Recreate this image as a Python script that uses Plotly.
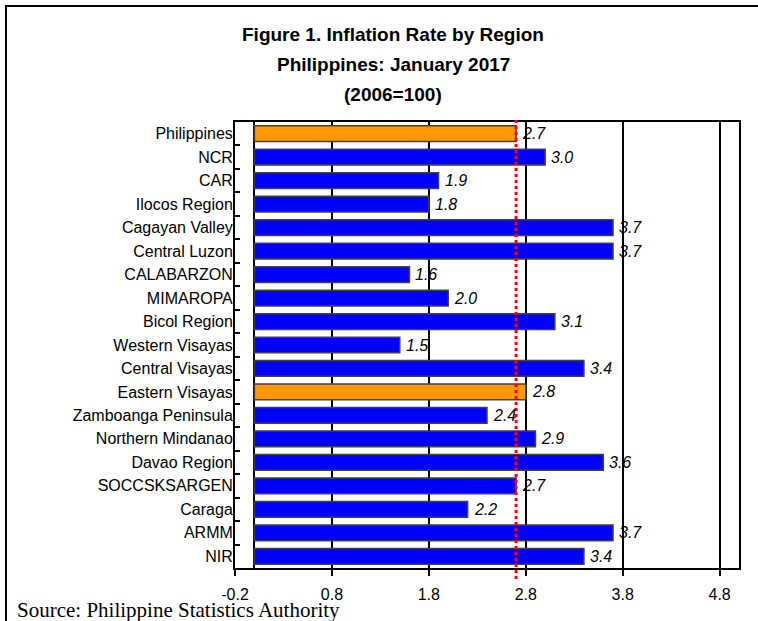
import plotly.graph_objects as go

regions = ["Philippines", "NCR", "CAR", "Ilocos Region", "Cagayan Valley", "Central Luzon",
           "CALABARZON", "MIMAROPA", "Bicol Region", "Western Visayas", "Central Visayas",
           "Eastern Visayas", "Zamboanga Peninsula", "Northern Mindanao", "Davao Region",
           "SOCCSKSARGEN", "Caraga", "ARMM", "NIR"]
rates = [2.7, 3.0, 1.9, 1.8, 3.7, 3.7, 1.6, 2.0, 3.1, 1.5, 3.4, 2.8, 2.4, 2.9, 3.6, 2.7, 2.2, 3.7, 3.4]
highlight = ["Philippines", "Eastern Visayas"]
national_rate = 2.7
x_ticks = [-0.2, 0.8, 1.8, 2.8, 3.8, 4.8]

BLUE = "#0000FF"
ORANGE = "#FF9900"
colors = [ORANGE if r in highlight else BLUE for r in regions]

W, H = 758, 621
L, R, T, B = 235, 19, 122, 53
PW, PH = W - L - R, H - T - B


def px(x):
    return (x - L) / PW


def py(y):
    return (H - B - y) / PH


fig = go.Figure()
fig.add_trace(go.Bar(
    y=regions, x=rates, orientation="h",
    marker=dict(color=colors, line=dict(color="#404040", width=1.5)),
    hoverinfo="x+y",
))

for r, v in zip(regions, rates):
    fig.add_annotation(x=v, y=r, xref="x", yref="y", text=f"<i>{v:.1f}</i>",
                       showarrow=False, xanchor="left", xshift=4,
                       font=dict(family="Liberation Sans", size=16, color="black"))

# national average reference line
fig.add_shape(type="line", xref="x", yref="paper", x0=national_rate, x1=national_rate,
              y0=py(579), y1=py(117), line=dict(color="#FF0000", width=3, dash="dot"))

# outer chart border
fig.add_shape(type="rect", xref="paper", yref="paper", x0=px(6), x1=px(770),
              y0=py(640), y1=py(6), line=dict(color="black", width=2), layer="below")

titles = ["Figure 1. Inflation Rate by Region", "Philippines: January 2017", "(2006=100)"]
for t, yy in zip(titles, [34, 64, 94]):
    fig.add_annotation(x=px(393), y=py(yy), xref="paper", yref="paper", text=f"<b>{t}</b>",
                       showarrow=False, xanchor="center", yanchor="middle",
                       font=dict(family="Liberation Sans", size=19, color="black"))

fig.add_annotation(x=px(15), y=py(610), xref="paper", yref="paper",
                   text="Source: Philippine Statistics Authority", showarrow=False,
                   xanchor="left", yanchor="middle",
                   font=dict(family="Liberation Serif", size=21, color="black"))

fig.update_layout(
    width=W, height=H,
    margin=dict(l=L, r=R, t=T, b=B),
    paper_bgcolor="white", plot_bgcolor="white",
    showlegend=False, bargap=0.33,
    font=dict(family="Liberation Sans", size=16, color="black"),
)
fig.update_xaxes(range=[-0.2, 5.0], tickmode="array", tickvals=x_ticks,
                 ticktext=[f"{v:.1f}" for v in x_ticks],
                 showgrid=True, gridcolor="black", gridwidth=1.5,
                 zeroline=True, zerolinecolor="black", zerolinewidth=1.5,
                 showline=True, linecolor="black", linewidth=2, mirror=True,
                 ticks="outside", ticklen=6, tickcolor="black", tickwidth=1.5,
                 ticklabelstandoff=5,
                 tickfont=dict(family="Liberation Sans", size=16, color="black"))
fig.update_yaxes(autorange="reversed", showgrid=False,
                 showline=True, linecolor="black", linewidth=2, mirror=True,
                 ticks="inside", tickson="boundaries", ticklen=5, tickcolor="black", tickwidth=1.5,
                 ticklabelstandoff=-3,
                 tickfont=dict(family="Liberation Sans", size=16, color="black"))

fig.write_html("out.html", config={"displayModeBar": False},
               post_script="document.body.style.margin='0px';document.body.style.padding='0px';")
